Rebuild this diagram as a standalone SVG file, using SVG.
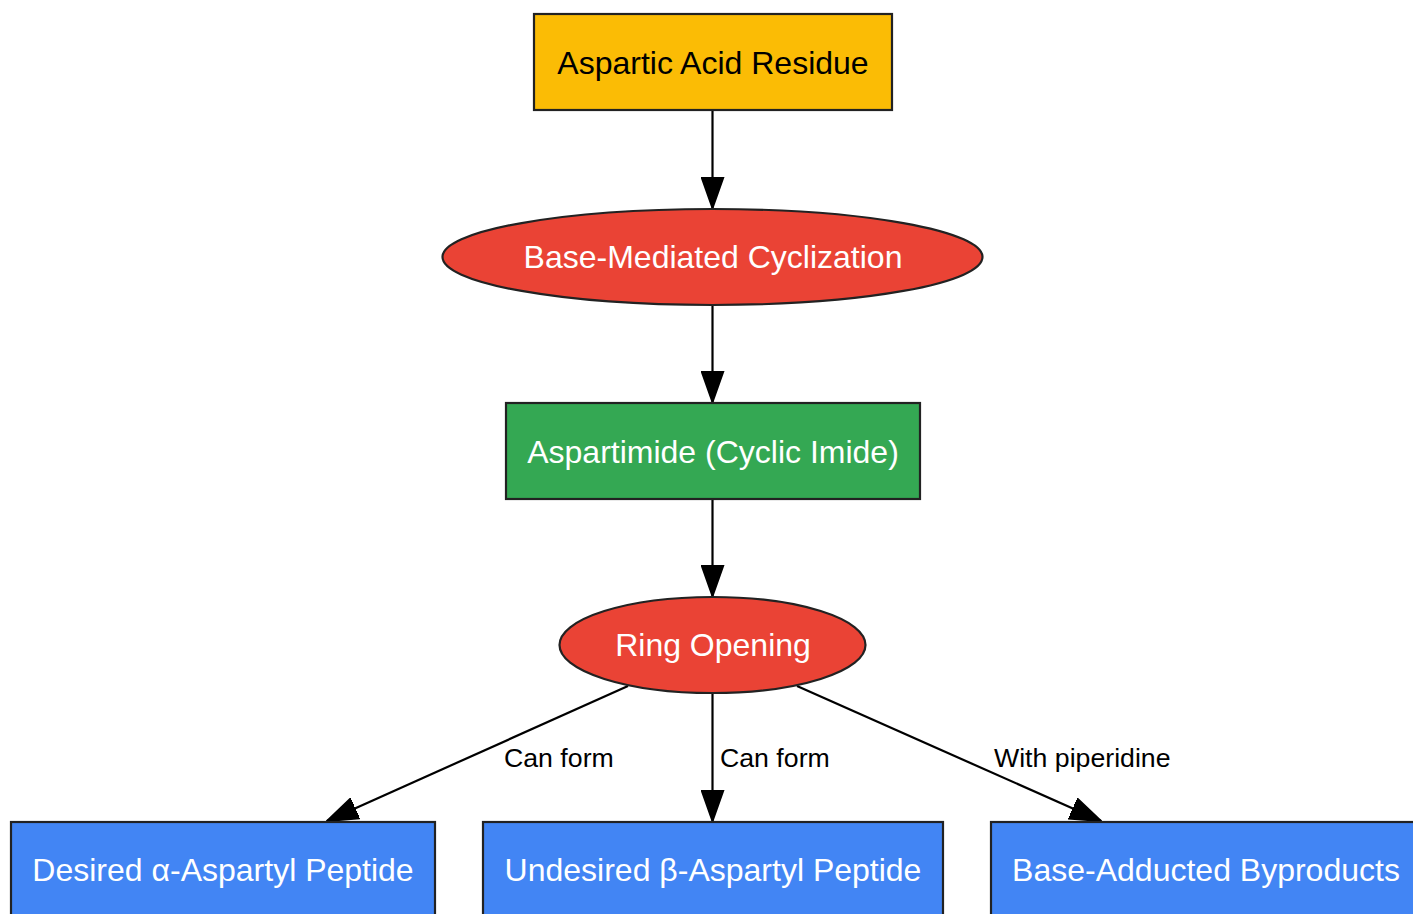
<svg xmlns="http://www.w3.org/2000/svg" width="1413" height="914" viewBox="0 0 1413 914">
<defs>
<marker id="arr" markerUnits="userSpaceOnUse" markerWidth="32" markerHeight="24" viewBox="0 0 32 24" refX="31" refY="12" orient="auto">
<path d="M0,1 L31,12 L0,23 Z" fill="#000" stroke="#000" stroke-width="2"/>
</marker>
</defs>
<style>
.n{stroke:#222;stroke-width:2.2}
.t{font-family:"Liberation Sans",Arial,sans-serif;font-size:32px;text-anchor:middle}
.w{fill:#fff}
.e{stroke:#000;stroke-width:2.2;fill:none}
.l{font-family:"Liberation Sans",Arial,sans-serif;font-size:26.7px;fill:#000}
</style>
<rect width="1413" height="914" fill="#fff"/>
<g id="connectors">
<line class="e" x1="712.5" y1="111" x2="712.5" y2="208" marker-end="url(#arr)"/>
<line class="e" x1="712.5" y1="306" x2="712.5" y2="402" marker-end="url(#arr)"/>
<line class="e" x1="712.5" y1="500" x2="712.5" y2="596" marker-end="url(#arr)"/>
<line class="e" x1="628" y1="686" x2="327" y2="821" marker-end="url(#arr)"/>
<line class="e" x1="712.5" y1="694" x2="712.5" y2="821" marker-end="url(#arr)"/>
<line class="e" x1="797" y1="686" x2="1101" y2="821" marker-end="url(#arr)"/>
<text class="l" x="504" y="767">Can form</text>
<text class="l" x="720" y="767">Can form</text>
<text class="l" x="994" y="767">With piperidine</text>
</g>
<g id="aspartic">
<rect class="n" x="534" y="14" width="358" height="96" fill="#FBBC05"/>
<text class="t" x="713" y="74">Aspartic Acid Residue</text>
</g>
<g id="cyclization">
<ellipse class="n" cx="712.5" cy="257" rx="270" ry="48" fill="#EA4335"/>
<text class="t w" x="713" y="268">Base-Mediated Cyclization</text>
</g>
<g id="aspartimide">
<rect class="n" x="506" y="403" width="414" height="96" fill="#34A853"/>
<text class="t w" x="713" y="463">Aspartimide (Cyclic Imide)</text>
</g>
<g id="ringopening">
<ellipse class="n" cx="712.5" cy="645" rx="153" ry="48" fill="#EA4335"/>
<text class="t w" x="713" y="656">Ring Opening</text>
</g>
<g id="alpha">
<rect class="n" x="11" y="822" width="424" height="96" fill="#4285F4"/>
<text class="t w" x="223" y="881">Desired α-Aspartyl Peptide</text>
</g>
<g id="beta">
<rect class="n" x="483" y="822" width="460" height="96" fill="#4285F4"/>
<text class="t w" x="713" y="881">Undesired β-Aspartyl Peptide</text>
</g>
<g id="byproducts">
<rect class="n" x="991" y="822" width="424" height="96" fill="#4285F4"/>
<text class="t w" x="1206" y="881">Base-Adducted Byproducts</text>
</g>
</svg>
